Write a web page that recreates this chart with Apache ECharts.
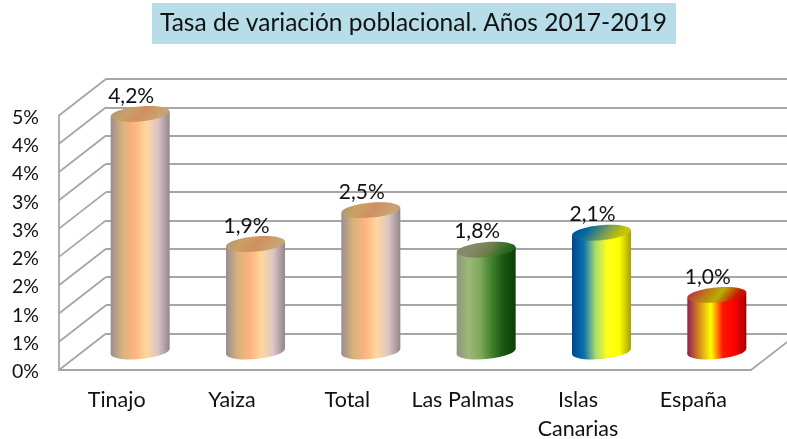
<!DOCTYPE html>
<html><head><meta charset="utf-8">
<style>html,body{margin:0;padding:0;background:#fff}#c{width:787px;height:439px}</style>
<script src="https://cdn.jsdelivr.net/npm/echarts@6/dist/echarts.min.js"></script>
</head><body><div id="c"></div>
<script>
const titleText = 'Tasa de variación poblacional. Años 2017-2019';
const categories = ['Tinajo', 'Yaiza', 'Total', 'Las Palmas', 'Islas\nCanarias', 'España'];
const values = [4.2, 1.9, 2.5, 1.8, 2.1, 1.0];
const axisMax = 4.5;
const axisStep = 0.5;
const tickValues = [0, 0.5, 1, 1.5, 2, 2.5, 3, 3.5, 4, 4.5];

const FONT = 'Lato';
const GRID_COLOR = '#a6a6a6';
const TEXT = '#111111';
const peachBody = ['#9a8c92','#d8b37c','#ffb27f','#ffd79c','#dcc6c4','#93858c'];
const peachTop = ['#a8957a','#c9a066','#d08f62','#c9a46e','#b8a08c'];
const bodyStops = [
  peachBody, peachBody, peachBody,
  ['#8e9580','#9db876','#7fa95c','#3f7f2a','#17570f','#0c3f0a'],
  ['#00468c','#0a70b0','#a8dc70','#ffff1a','#ffff00','#a8a000'],
  ['#8c1f55','#d88a20','#ffff00','#ff1500','#ff0000','#a80000']
];
const topStops = [
  peachTop, peachTop, peachTop,
  ['#7f8a68','#87886a','#6f7f4a','#2a6a20','#155010'],
  ['#00488c','#086aa0','#6f9a60','#c4c400','#c8c800'],
  ['#b01f60','#c06a20','#b8b000','#c81800','#c80000']
];

function gradient(stops, x2, y2) {
  return { type:'linear', x:0, y:0, x2:x2, y2:y2,
    colorStops: stops.map((c,i)=>({offset:i/(stops.length-1), color:c})) };
}
const fmt = v => v.toFixed(1).replace('.', ',') + '%';
const tickFmt = v => (Math.floor(v + 0.5)) + '%';

const DX = 47, DY = 36.5;
const BAR_W = 59, RY = 7.5, TILT = 0.09, LIFT = 2.7;

function renderCylinder(params, api) {
  const i = api.value(0), v = api.value(1);
  const base = api.coord([i, 0]), top = api.coord([i, v]);
  const rx = BAR_W/2, L = base[0]-rx, R = base[0]+rx;
  const ell = (cy, fill) => ({ type:'ellipse',
    shape:{cx:base[0], cy:cy, rx:rx, ry:RY},
    originX:base[0], originY:cy, rotation:TILT, style:{fill:fill} });
  return { type:'group', children:[
    ell(base[1], gradient(bodyStops[i],1,0)),
    { type:'polygon', shape:{points:[[L,top[1]+LIFT],[R,top[1]-LIFT],[R,base[1]-LIFT],[L,base[1]+LIFT]]},
      style:{fill:gradient(bodyStops[i],1,0)} },
    ell(top[1], gradient(topStops[i],0.7,2.6)),
    { type:'text', x:base[0]-9, y:top[1]-18,
      style:{ text:fmt(v), font:'21px '+FONT, fill:TEXT, align:'center', verticalAlign:'middle' } }
  ]};
}

function renderDiagonal(params, api) {
  const p = api.coord([0, api.value(1)]);
  const half = api.size([1,0])[0]/2;
  return { type:'line',
    shape:{x1:p[0]-half, y1:p[1], x2:p[0]-half+DX, y2:p[1]-DY},
    style:{stroke:GRID_COLOR, lineWidth:1.8} };
}
function renderFloorEdge(params, api) {
  const p = api.coord([api.value(0), 0]);
  const half = api.size([1,0])[0]/2;
  return { type:'line',
    shape:{x1:p[0]+half, y1:p[1], x2:p[0]+half+DX, y2:p[1]-DY},
    style:{stroke:GRID_COLOR, lineWidth:1.8} };
}

const W = 692, H = 254.5;
const frame = {outerBoundsMode:'none', containLabel:false, width:W, height:H};
const grids = [
  {left:59,   top:115.5, ...frame},   // front plane: floor edge, left edge, category labels
  {left:82.5, top:97,    ...frame},   // middle plane: cylinders
  {left:106,  top:79,    ...frame},   // back wall: gridlines
  {left:59,   top:117.5, ...frame}    // tick labels
];
const xAxis = grids.map((g,i)=>({
  gridIndex:i, type:'category', data:categories,
  axisTick:{show:false},
  axisLine:{show:i===0, lineStyle:{color:GRID_COLOR,width:1.8}},
  axisLabel:{show:i===0, interval:0, fontFamily:FONT, fontSize:21.5, color:TEXT, lineHeight:29, margin:16}
}));
const yAxis = grids.map((g,i)=>({
  gridIndex:i, type:'value', min:0, max:axisMax, interval:axisStep,
  axisTick:{show:false},
  axisLine:{show:i===0, lineStyle:{color:GRID_COLOR,width:1.8}},
  splitLine:{show:i===2, lineStyle:{color:GRID_COLOR,width:1.8}},
  axisLabel:{show:i===3, formatter:tickFmt, fontFamily:FONT, fontSize:19.5, color:TEXT, margin:20}
}));

echarts.init(document.getElementById('c'), null, {renderer:'canvas'}).setOption({
  animation:false,
  backgroundColor:'#fff',
  title:{ text:titleText, left:152, top:3,
    backgroundColor:'#b7dde8', padding:[8,9,8,8],
    textStyle:{fontFamily:FONT, fontSize:24.5, fontWeight:'normal', color:TEXT, lineHeight:25} },
  grid:grids, xAxis:xAxis, yAxis:yAxis,
  series:[
    { type:'custom', xAxisIndex:0, yAxisIndex:0, renderItem:renderDiagonal,
      data:tickValues.map(v=>[0,v]), silent:true, z:1 },
    { type:'custom', xAxisIndex:0, yAxisIndex:0, renderItem:renderFloorEdge,
      data:[[categories.length-1,0]], silent:true, z:1 },
    { type:'custom', xAxisIndex:1, yAxisIndex:1, renderItem:renderCylinder,
      data:values.map((v,i)=>[i,v]), z:5 }
  ]
});
</script></body></html>
